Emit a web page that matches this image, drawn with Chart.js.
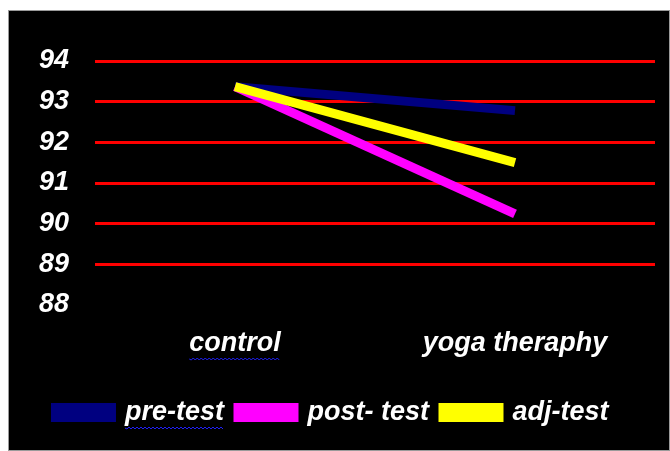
<!DOCTYPE html>
<html>
<head>
<meta charset="utf-8">
<script src="https://cdn.jsdelivr.net/npm/chart.js@4/dist/chart.umd.min.js"></script>
<style>
  body { margin: 0; background: #fff; }
  #wrap { position: absolute; left: 8px; top: 10px; width: 660px; height: 439px; background: #000; border: 1px solid #9a9a9a; }
</style>
</head>
<body>
<div id="wrap"><canvas id="chart" width="660" height="439"></canvas></div>
<script>
const groups = ['control', 'yoga theraphy'];
const preTest = [93.37, 92.78];
const postTest = [93.37, 90.24];
const adjTest = [93.37, 91.5];
const yTicks = [88, 89, 90, 91, 92, 93, 94];

const font = { family: '"Liberation Sans", Arial, sans-serif', size: 27, weight: 'bold', style: 'italic' };
const fontCss = 'italic bold 27px "Liberation Sans", Arial, sans-serif';

// the blue wavy spell-check lines seen under two words
function wavy(ctx, x1, x2, y) {
    ctx.save();
    ctx.strokeStyle = '#2020ff';
    ctx.lineWidth = 1;
    ctx.beginPath();
    for (let x = x1, up = true; x <= x2; x += 2, up = !up) {
        if (x === x1) ctx.moveTo(x, y); else ctx.lineTo(x, up ? y - 1 : y + 1);
    }
    ctx.stroke();
    ctx.restore();
}

const squiggles = {
    id: 'squiggles',
    afterDraw(chart) {
        const ctx = chart.ctx;
        ctx.font = fontCss;
        const xs = chart.scales.x;
        const w = ctx.measureText(groups[0]).width;
        const cx = xs.getPixelForValue(0);
        wavy(ctx, cx - w / 2, cx + w / 2, xs.top + 54);
        const item = chart.legend.legendItems[0];
        const hit = chart.legend.legendHitBoxes[0];
        if (hit) {
            const tx = hit.left + chart.options.plugins.legend.labels.boxWidth + font.size / 2;
            const tw = ctx.measureText(item.text).width;
            wavy(ctx, tx, tx + tw, 417);
        }
    }
};

new Chart(document.getElementById('chart'), {
    type: 'line',
    data: {
        labels: groups,
        datasets: [
            { label: 'pre-test', data: preTest, borderColor: '#000080', backgroundColor: '#000080', order: 2 },
            { label: 'post- test', data: postTest, borderColor: '#ff00ff', backgroundColor: '#ff00ff', order: 1 },
            { label: 'adj-test', data: adjTest, borderColor: '#ffff00', backgroundColor: '#ffff00', order: 0 }
        ]
    },
    options: {
        responsive: false,
        animation: false,
        layout: { padding: { top: 50, right: 14, left: 0, bottom: 14 } },
        elements: {
            line: { borderWidth: 9, tension: 0, borderCapStyle: 'butt' },
            point: { radius: 0, hoverRadius: 0 }
        },
        scales: {
            x: {
                offset: true,
                grid: { display: false },
                border: { display: false },
                ticks: { color: '#fff', font: font, padding: 14 },
                afterFit: s => { s.height = 80; }
            },
            y: {
                min: 88,
                max: 94,
                afterBuildTicks: s => { s.ticks = yTicks.map(v => ({ value: v })); },
                grid: {
                    color: c => (c.tick && c.tick.value === 88) ? 'rgba(0,0,0,0)' : '#ff0000',
                    lineWidth: 3,
                    drawTicks: false
                },
                border: { display: false },
                ticks: { color: '#fff', font: font, padding: 26 },
                afterFit: s => { s.width = 86; }
            }
        },
        plugins: {
            legend: {
                position: 'bottom',
                labels: {
                    color: '#fff',
                    font: font,
                    boxWidth: 56,
                    boxHeight: 10,
                    padding: 14,
                    sort: (a, b) => a.datasetIndex - b.datasetIndex
                }
            },
            tooltip: { enabled: false }
        }
    },
    plugins: [squiggles]
});
</script>
</body>
</html>
